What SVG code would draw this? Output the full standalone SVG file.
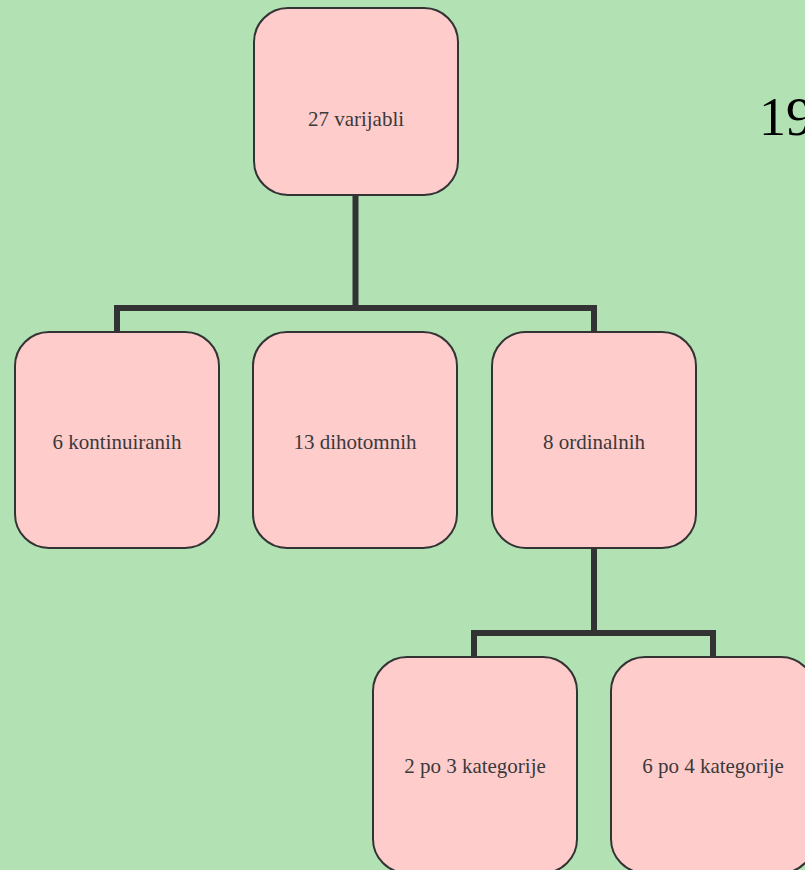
<svg xmlns="http://www.w3.org/2000/svg" width="805" height="870" viewBox="0 0 805 870">
<style>
.node rect{fill:#ffcccc;stroke:#333;stroke-width:2}
.conn path{fill:none;stroke:#333;stroke-width:6;stroke-linejoin:miter}
</style>
<rect x="0" y="0" width="805" height="870" fill="#b2e1b4"/>
<g class="conn">
<path d="M355.5 195 V308 M117 332 V308 H594 V332"/>
<path d="M594 548 V633 M474 657 V633 H713 V657"/>
</g>
<g font-family="Liberation Serif, Times New Roman, serif" font-size="21" fill="#3a3a3a" text-anchor="middle">
<g id="n27" class="node"><rect x="254" y="8" width="204" height="187" rx="34"/><text x="356" y="126">27 varijabli</text></g>
<g id="n6k" class="node"><rect x="15" y="332" width="204" height="216" rx="34"/><text x="117" y="449">6 kontinuiranih</text></g>
<g id="n13" class="node"><rect x="253" y="332" width="204" height="216" rx="34"/><text x="355" y="449">13 dihotomnih</text></g>
<g id="n8" class="node"><rect x="492" y="332" width="204" height="216" rx="34"/><text x="594" y="449">8 ordinalnih</text></g>
<g id="n2p3" class="node"><rect x="373" y="657" width="204" height="216" rx="34"/><text x="475" y="773">2 po 3 kategorije</text></g>
<g id="n6p4" class="node"><rect x="611" y="657" width="204" height="216" rx="34"/><text x="713" y="773">6 po 4 kategorije</text></g>
</g>
<text x="759" y="135" font-family="Liberation Serif, Times New Roman, serif" font-size="54" fill="#000">19</text>
</svg>
